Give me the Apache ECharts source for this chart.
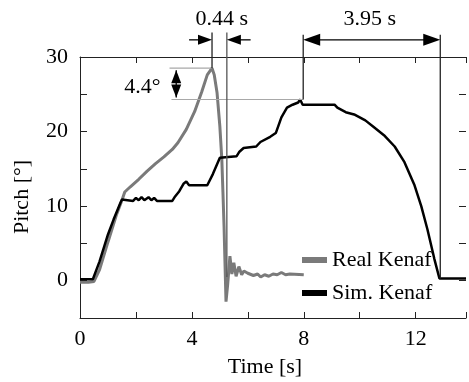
<!DOCTYPE html>
<html><head><meta charset="utf-8">
<script src="https://cdn.jsdelivr.net/npm/echarts@6/dist/echarts.min.js"></script>
<style>html,body{margin:0;padding:0;background:#fff}#c{width:469px;height:382px}</style>
</head><body><div id="c"></div>
<script>
// ---- data ----
const seriesNames = ['Real Kenaf', 'Sim. Kenaf'];
const realTime  = [0,0.3,0.5,0.7,1.0,1.3,1.5,1.6,1.8,2.1,2.4,2.7,3.0,3.3,3.5,3.8,4.1,4.35,4.55,4.72,4.8,4.9,5.0,5.07,5.11,5.15,5.18,5.22,5.28,5.36,5.43,5.5,5.58,5.68,5.78,5.86,6.0,6.2,6.35,6.46,6.6,6.75,6.9,7.05,7.2,7.35,7.5,8.0];
const realPitch = [-0.2,-0.2,-0.1,1.5,5.2,8.8,10.8,11.9,12.6,13.6,14.7,15.7,16.6,17.6,18.5,20.3,22.7,25.3,27.6,28.5,27.6,25.2,20.7,16.3,11.9,7.3,2.9,-2.8,-0.5,3.3,0.9,2.4,0.6,1.9,0.8,1.3,1.0,0.7,0.9,0.5,0.8,0.6,0.9,0.8,1.1,0.8,0.9,0.8];
const simTime  = [0,0.46,0.7,1.0,1.2,1.45,1.5,1.55,1.9,2.0,2.1,2.2,2.3,2.45,2.55,2.65,2.75,3.3,3.4,3.55,3.7,3.8,3.9,4.55,4.75,5.0,5.05,5.6,5.7,5.85,6.3,6.45,6.8,7.0,7.2,7.4,7.6,7.8,7.87,7.96,9.1,9.2,9.5,9.8,10.2,10.5,10.9,11.25,11.6,11.96,12.2,12.42,12.67,12.85,13.8];
const simPitch = [0.2,0.2,2.6,6.2,8.2,10.5,10.9,10.7,10.7,11.1,10.8,11.2,10.8,11.2,10.8,11.1,10.7,10.7,11.3,12.0,13.0,13.3,12.8,12.8,14.3,16.5,16.7,16.7,17.3,17.8,18.0,18.6,19.3,19.8,21.9,23.2,23.6,23.9,24.3,23.6,23.6,23.2,22.6,22.3,21.5,20.6,19.4,18.0,15.9,12.8,10.0,6.9,2.9,0.3,0.3];
const xLabelStep = 4;
const yLabelStep = 10;
// annotations (data units)
const annotTexts = ['0.44 s', '3.95 s', '4.4°'];
const annotTextPos = [[5.07, 35.1], [10.36, 35.1], [2.23, 26.0]];
const guideV = [[4.72, 28.5, 33.3], [5.25, 0.5, 33.3], [7.98, 24.3, 33.0], [12.88, 0.3, 33.0]]; // t, from, to
const guideH = [[28.5, 3.2, 4.72], [24.3, 3.27, 7.98]]; // v, from t, to t
const arrowLevel = 32.3;
const singleArrows = [[3.9, 4.72], [6.1, 5.25]]; // from t, tip t
const doubleArrowT = [7.98, 12.88];
const vArrow = [3.44, 28.5, 24.3];

const FONT = '"Liberation Serif","Times New Roman",serif';
const FS = 22;
const TXT = '#000';
const chart = echarts.init(document.getElementById('c'), null, {renderer: 'canvas'});
const zip = (a, b) => a.map((t, i) => [t, b[i]]);
const axLine = {show: true, onZero: false, lineStyle: {color: '#222', width: 1}};

chart.setOption({
  animation: false,
  backgroundColor: '#fff',
  grid: {left: 80, right: 0, top: 57, bottom: 64, containLabel: false},
  legend: {
    orient: 'vertical', left: 297, top: 244, itemWidth: 25, itemHeight: 6, itemGap: 11,
    icon: 'rect', data: seriesNames,
    textStyle: {fontFamily: FONT, fontSize: FS, color: TXT}
  },
  xAxis: [
    {type: 'value', min: 0, max: 13.8, interval: 2, position: 'bottom',
     axisLine: axLine,
     axisTick: {show: true, inside: true, length: 6, lineStyle: {color: '#222'}},
     axisLabel: {fontFamily: FONT, fontSize: FS, color: TXT, margin: 10,
       formatter: v => (Math.abs(v % xLabelStep) < 1e-9 ? String(v) : '')},
     splitLine: {show: false}},
    {type: 'value', min: 0, max: 13.8, interval: 2, position: 'top',
     axisLine: axLine,
     axisTick: {show: true, inside: true, length: 6, lineStyle: {color: '#222'}},
     axisLabel: {show: false}, splitLine: {show: false}}
  ],
  yAxis: [
    {type: 'value', min: -5, max: 30, interval: 5, position: 'left',
     axisLine: axLine,
     axisTick: {show: true, inside: true, length: 7, lineStyle: {color: '#222'}},
     axisLabel: {fontFamily: FONT, fontSize: FS, color: TXT, margin: 12,
       formatter: v => (Math.abs(v % yLabelStep) < 1e-9 ? String(v) : '')},
     splitLine: {show: false}},
    {type: 'value', min: -5, max: 30, interval: 5, position: 'right',
     axisLine: {show: false, onZero: false},
     axisTick: {show: true, inside: true, length: 7, lineStyle: {color: '#222'}},
     axisLabel: {show: false}, splitLine: {show: false}}
  ],
  series: [
    {name: seriesNames[0], type: 'line', data: zip(realTime, realPitch), showSymbol: false, symbol: 'none',
     lineStyle: {color: '#7a7a7a', width: 3}, itemStyle: {color: '#7a7a7a'}, z: 3},
    {name: seriesNames[1], type: 'line', data: zip(simTime, simPitch), showSymbol: false, symbol: 'none',
     lineStyle: {color: '#000', width: 2.5}, itemStyle: {color: '#000'}, z: 4}
  ]
});

const P = (t, v) => chart.convertToPixel({gridIndex: 0}, [t, v]);
const g = [];
const line = (a, b, color, w) => g.push({type: 'line', z: 10, silent: true,
  shape: {x1: a[0], y1: a[1], x2: b[0], y2: b[1]}, style: {stroke: color, lineWidth: w}});
const head = (tip, dx, dy, len, half) => {
  const bx = tip[0] - dx * len, by = tip[1] - dy * len;
  const px = -dy * half, py = dx * half;
  g.push({type: 'polygon', z: 11, silent: true,
    shape: {points: [[tip[0], tip[1]], [bx + px, by + py], [bx - px, by - py]]}, style: {fill: '#000'}});
};
guideH.forEach(([v, t0, t1]) => line(P(t0, v), P(t1, v), '#a8a8a8', 1.2));
guideV.forEach(([t, v0, v1], i) => line(P(t, v0), P(t, v1), i === 1 ? '#555' : '#222', 1.3));
singleArrows.forEach(([t0, t1]) => {
  const a = P(t0, arrowLevel), b = P(t1, arrowLevel);
  const d = Math.sign(b[0] - a[0]);
  line(a, [b[0] - d * 8, b[1]], '#000', 1.3);
  head(b, d, 0, 14, 5);
});
{
  const a = P(doubleArrowT[0], arrowLevel), b = P(doubleArrowT[1], arrowLevel);
  line([a[0] + 10, a[1]], [b[0] - 10, b[1]], '#000', 1.3);
  head(a, -1, 0, 17, 6);
  head(b, 1, 0, 17, 6);
}
{
  const a = P(vArrow[0], vArrow[1]), b = P(vArrow[0], vArrow[2]);
  const top = [a[0], a[1] + 2], bot = [b[0], b[1] - 2];
  line(top, bot, '#000', 1.3);
  head(top, 0, -1, 13, 5);
  head(bot, 0, 1, 13, 5);
}
annotTexts.forEach((s, i) => {
  const p = P(annotTextPos[i][0], annotTextPos[i][1]);
  g.push({type: 'text', z: 12, silent: true, x: p[0], y: p[1],
    style: {text: s, fill: TXT, font: FS + 'px ' + FONT, textAlign: 'center', textVerticalAlign: 'middle'}});
});
g.push({type: 'text', z: 12, silent: true, x: 265, y: 367,
  style: {text: 'Time [s]', fill: TXT, font: FS + 'px ' + FONT, textAlign: 'center', textVerticalAlign: 'middle'}});
g.push({type: 'text', z: 12, silent: true, x: 22, y: 197, rotation: Math.PI / 2,
  style: {text: 'Pitch [°]', fill: TXT, font: FS + 'px ' + FONT, textAlign: 'center', textVerticalAlign: 'middle'}});
chart.setOption({graphic: g});
</script></body></html>
